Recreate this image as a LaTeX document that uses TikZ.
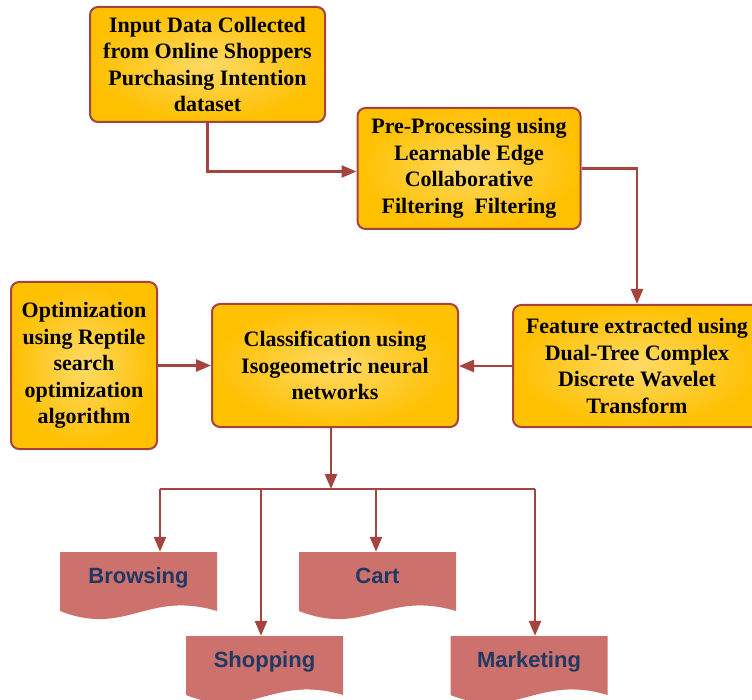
\documentclass[tikz,border=0pt]{standalone}
\usepackage{fontspec}
\setmainfont{Liberation Serif}
\setsansfont{Liberation Sans}
\usetikzlibrary{positioning,calc,arrows.meta,shadings}

\definecolor{boxgold}{HTML}{FFC000}
\definecolor{boxlight}{HTML}{FFDA66}
\definecolor{edgered}{HTML}{A5433E}
\definecolor{docred}{HTML}{CC716B}
\definecolor{docblue}{HTML}{1F3864}

\begin{document}
\begin{tikzpicture}[x=1pt, y=-1pt]

		\tikzstyle{stepbox} = [draw=edgered, line width=2pt, rectangle, rounded corners=8pt, inner color=boxlight, outer color=boxgold, align=center, font=\fontsize{22}{26.5}\selectfont\bfseries]
		\tikzstyle{outcome} = [rectangle, fill=white, minimum width=157pt, inner ysep=15.5pt, text height=16pt, text depth=21pt, font=\fontsize{22}{26}\selectfont\sffamily\bfseries, text=docblue,
			path picture={\fill[docred] (path picture bounding box.north west) -- (path picture bounding box.north east) -- ([yshift=9pt]path picture bounding box.south east) .. controls ([xshift=-70pt,yshift=30pt]path picture bounding box.south east) and ([xshift=66pt,yshift=-17pt]path picture bounding box.south west) .. ([yshift=9pt]path picture bounding box.south west) -- cycle;}]
		\tikzstyle{link} = [draw=edgered, line width=2.6pt, -{Triangle[length=15pt,width=12pt]}]
		\tikzstyle{bus} = [draw=edgered, line width=2.6pt]

		\useasboundingbox (0,0) rectangle (752,700);

		\node[stepbox, minimum width=235pt, minimum height=115pt] (input) at (207.5,64.5) {Input Data Collected\\from Online Shoppers\\Purchasing Intention\\dataset};
		\node[stepbox, minimum width=223pt, minimum height=121pt] (prep) at (469,168.5) {Pre-Processing using\\Learnable Edge\\Collaborative\\Filtering\ \ Filtering};
		\node[stepbox, minimum width=248pt, minimum height=122pt] (feat) at (637,366) {Feature extracted using\\Dual-Tree Complex\\Discrete Wavelet\\Transform};
		\node[stepbox, minimum width=246pt, minimum height=123pt] (class) at (335,365.5) {Classification using\\Isogeometric neural\\networks};
		\node[stepbox, minimum width=146pt, minimum height=167pt] (optim) at (84,365.5) {Optimization\\using Reptile\\search\\optimization\\algorithm};

		\node[outcome] (brow) at (138.5,586) {Browsing};
		\node[outcome] (cart) at (377.5,586) {Cart};
		\node[outcome] (shop) at (264.5,670) {Shopping};
		\node[outcome] (mark) at (529,670) {Marketing};

		\draw[link] (input.south) |- ([yshift=-3pt]prep.west);
		\draw[link] (prep.east) -| (feat.north);
		\draw[link] (feat.west) -- (feat.west -| class.east);
		\draw[link] (optim.east) -- (optim.east -| class.west);

		\coordinate (split) at (331,489);

		\draw[bus] ([xshift=21.5pt]brow.north |- split) -- ([xshift=6pt]mark.north |- split);
		\draw[link] ([xshift=21.5pt]brow.north |- split) -- ([xshift=21.5pt]brow.north);
		\draw[link] ([xshift=-3.5pt]shop.north |- split) -- ([xshift=-3.5pt]shop.north);
		\draw[link] ([xshift=-1.5pt]cart.north |- split) -- ([xshift=-1.5pt]cart.north);
		\draw[link] ([xshift=6pt]mark.north |- split) -- ([xshift=6pt]mark.north);
		\draw[link] (class.south -| split) -- (split);

	\end{tikzpicture}
\end{document}
